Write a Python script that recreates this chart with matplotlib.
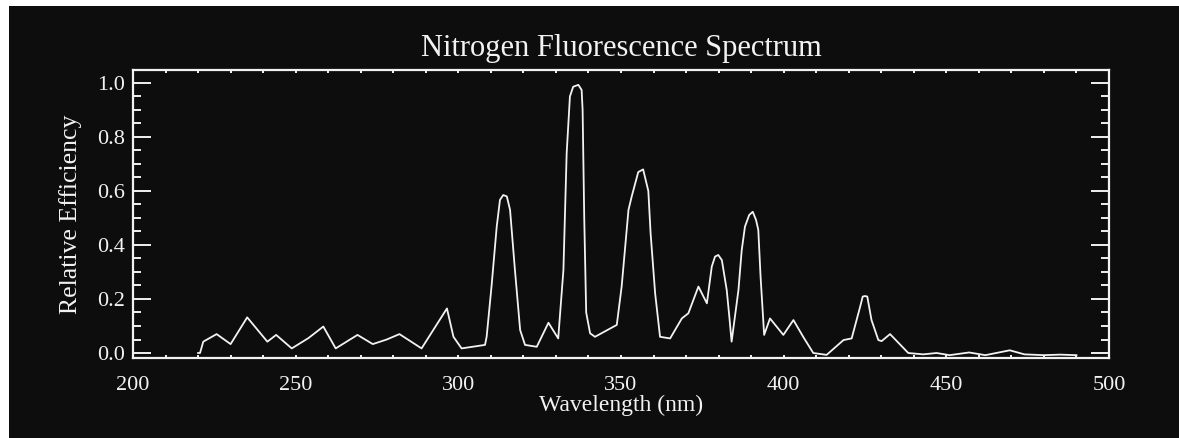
import matplotlib
matplotlib.use('Agg')
import matplotlib.pyplot as plt
from matplotlib.patches import Rectangle
from matplotlib.ticker import MultipleLocator, FormatStrFormatter

# N2 fluorescence yield vs wavelength
wavelength = [220.0, 220.6, 221.6, 225.7, 230.0, 235.1, 241.3, 244.0, 248.8, 253.9,
              258.5, 262.3, 269.0, 273.7, 278.0, 281.9, 288.7, 296.5, 298.5, 301.0,
              308.2, 308.7, 310.2, 311.8, 312.8, 313.8, 314.9, 315.9, 317.4, 319.0,
              320.5, 324.1, 327.7, 330.7, 332.3, 333.3, 334.3, 335.3, 336.9, 337.9,
              338.2, 338.7, 339.3, 340.5, 342.0, 348.7, 350.2, 352.3, 353.3, 355.3,
              356.8, 358.4, 359.1, 360.5, 362.0, 365.1, 368.7, 370.7, 373.8, 376.4,
              377.9, 378.9, 379.9, 381.0, 382.5, 383.3, 384.0, 386.1, 387.1, 388.1,
              389.4, 390.5, 391.5, 392.2, 392.9, 394.0, 395.8, 399.9, 403.0, 406.0,
              409.1, 413.2, 418.4, 420.9, 423.5, 424.3, 425.0, 425.7, 427.0, 429.1,
              430.1, 432.7, 438.3, 442.9, 447.0, 451.0, 457.0, 462.0, 469.5, 474.0,
              480.0, 485.0, 490.0]
efficiency = [0.000, 0.000, 0.042, 0.070, 0.033, 0.132, 0.042, 0.067, 0.017, 0.055,
              0.098, 0.017, 0.067, 0.033, 0.050, 0.070, 0.017, 0.165, 0.060, 0.017,
              0.030, 0.060, 0.246, 0.468, 0.567, 0.585, 0.580, 0.530, 0.307, 0.085,
              0.030, 0.023, 0.112, 0.054, 0.307, 0.740, 0.950, 0.986, 0.993, 0.974,
              0.900, 0.500, 0.150, 0.073, 0.060, 0.104, 0.246, 0.530, 0.580, 0.670,
              0.680, 0.600, 0.443, 0.220, 0.060, 0.054, 0.128, 0.147, 0.246, 0.184,
              0.320, 0.357, 0.363, 0.344, 0.233, 0.134, 0.042, 0.233, 0.380, 0.468,
              0.511, 0.523, 0.493, 0.456, 0.283, 0.067, 0.128, 0.067, 0.122, 0.060,
              0.000, -0.007, 0.048, 0.054, 0.171, 0.209, 0.211, 0.209, 0.122, 0.048,
              0.044, 0.070, 0.000, -0.005, 0.000, -0.008, 0.002, -0.008, 0.010, -0.005,
              -0.008, -0.006, -0.008]

fg = '#f2f2f2'
bg = '#0d0d0d'
plt.rcParams['font.family'] = ['Liberation Serif', 'DejaVu Serif']

fig = plt.figure(figsize=(11.79, 4.38), dpi=100, facecolor='white')
fig.patches.append(Rectangle((9 / 1179, 0), 1, 432 / 438, transform=fig.transFigure,
                             facecolor=bg, edgecolor='none', zorder=-1))

ax = fig.add_axes([133 / 1179, 1 - 358 / 438, 976 / 1179, 288 / 438])
ax.set_facecolor(bg)
ax.plot(wavelength, efficiency, color=fg, lw=1.3)

ax.set_xlim(200, 500)
ax.set_ylim(-0.0185, 1.048)
ax.xaxis.set_major_locator(MultipleLocator(50))
ax.xaxis.set_minor_locator(MultipleLocator(10))
ax.yaxis.set_major_locator(MultipleLocator(0.2))
ax.yaxis.set_minor_locator(MultipleLocator(0.05))
ax.yaxis.set_major_formatter(FormatStrFormatter('%.1f'))

for s in ax.spines.values():
    s.set_color(fg)
    s.set_linewidth(1.6)

ax.tick_params(which='both', direction='in', top=True, right=True, color=fg,
               labelcolor=fg, labelsize=16, width=1.4)
ax.tick_params(axis='y', which='major', length=13, pad=6)
ax.tick_params(axis='y', which='minor', length=6)
ax.tick_params(axis='x', which='both', length=2.5, pad=13)

ax.set_title('Nitrogen Fluorescence Spectrum', color=fg, fontsize=22, pad=10)
ax.set_xlabel('Wavelength (nm)', color=fg, fontsize=17, labelpad=0)
ax.set_ylabel('Relative Efficiency', color=fg, fontsize=18.5, labelpad=11)

fig.savefig('out.png', dpi=100, facecolor=fig.get_facecolor())
